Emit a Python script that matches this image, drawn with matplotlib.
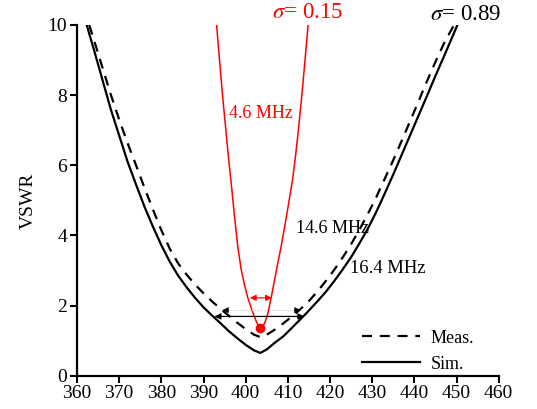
import numpy as np
import matplotlib
matplotlib.use('Agg')
import matplotlib.pyplot as plt

plt.rcParams['font.family'] = ['Liberation Serif', 'DejaVu Serif']
plt.rcParams['mathtext.fontset'] = 'stix'

# Simulated VSWR (solid black)
sim_freq = [362.3, 364, 366, 368, 370, 372, 374, 376, 378, 380, 382, 384, 386, 388,
            390, 392, 394, 396, 398, 400, 402, 403.5,
            405, 407, 409, 411, 413, 415, 417, 419, 421, 423, 425, 427, 429, 431,
            433, 435, 437, 439, 441, 443, 445, 447, 449, 450.2]
sim_vswr = [10.0, 9.3, 8.45, 7.6, 6.85, 6.1, 5.45, 4.82, 4.25, 3.72, 3.25, 2.85, 2.52, 2.22,
            1.95, 1.72, 1.5, 1.27, 1.07, 0.88, 0.72, 0.65,
            0.75, 0.95, 1.13, 1.37, 1.61, 1.86, 2.12, 2.39, 2.7, 3.03, 3.38, 3.78, 4.2, 4.68,
            5.2, 5.74, 6.3, 6.86, 7.42, 7.98, 8.55, 9.1, 9.66, 10.0]

# Measured VSWR (dashed black)
meas_freq = [362.9, 364, 366, 368, 370, 372, 374, 376, 378, 380, 382, 384, 386, 388,
             390, 392, 394, 396, 398, 400, 402, 403.5,
             405, 407, 409, 411, 413, 415, 417, 419, 421, 423, 425, 427, 429, 431,
             433, 435, 437, 439, 441, 443, 445, 447, 449.4]
meas_vswr = [10.0, 9.58, 8.8, 8.02, 7.3, 6.63, 6.0, 5.36, 4.74, 4.15, 3.62, 3.2, 2.88, 2.6,
             2.35, 2.12, 1.91, 1.71, 1.51, 1.33, 1.17, 1.1,
             1.17, 1.32, 1.5, 1.69, 1.9, 2.13, 2.4, 2.7, 3.02, 3.37, 3.75, 4.17, 4.62, 5.1,
             5.62, 6.15, 6.7, 7.26, 7.83, 8.4, 8.95, 9.47, 10.0]

# Narrow-band curve (red)
red_freq = [393.1, 393.8, 394.5, 395.3, 395.9, 396.5, 397.3, 398.1, 398.9, 399.7,
            400.5, 401.4, 402.5, 403.6, 404.5, 405.2, 406.0, 406.8, 407.6, 408.4,
            409.1, 410.1, 411.1, 411.8, 412.5, 413.2, 414.0, 414.8]
red_vswr = [10.0, 9.0, 8.0, 7.0, 6.25, 5.57, 4.6, 3.7, 3.05, 2.6,
            2.22, 1.9, 1.55, 1.3, 1.5, 1.75, 2.2, 2.7, 3.2, 3.68,
            4.15, 4.85, 5.58, 6.25, 7.0, 7.85, 8.9, 10.0]
red_dot = (403.5, 1.35)

# bandwidth markers: (left, right, level)
bw_red = (401.0, 406.2, 2.22)
bw_sim = (392.6, 413.9, 1.69)
bw_meas = (394.5, 413.0, 1.87)

fig = plt.figure(figsize=(5.37, 4.09), dpi=100)
ax = fig.add_axes([0.1434, 0.0814, 0.7853, 0.8575])

ax.plot(meas_freq, meas_vswr, color='black', lw=1.6, ls=(0, (4.5, 3.5)), label='Meas.')
ax.plot(sim_freq, sim_vswr, color='black', lw=1.6, label='Sim.')
ax.plot(red_freq, red_vswr, color='red', lw=1.1)
ax.plot(*red_dot, 'o', color='red', ms=6)

# red arrows pointing outward
mid = (bw_red[0] + bw_red[1]) / 2
for tip in (bw_red[0], bw_red[1]):
    ax.annotate('', xy=(tip, bw_red[2]), xytext=(mid, bw_red[2]),
                arrowprops=dict(arrowstyle='-|>', color='red', lw=0.8, mutation_scale=9,
                                shrinkA=0, shrinkB=0))
# sim bandwidth arrow
ax.annotate('', xy=(bw_sim[0], bw_sim[2]), xytext=(bw_sim[1], bw_sim[2]),
            arrowprops=dict(arrowstyle='<|-|>', color='black', lw=0.9, mutation_scale=9,
                            shrinkA=0, shrinkB=0))
# meas bandwidth dotted line with heads
ax.plot([bw_meas[0], bw_meas[1]], [bw_meas[2], bw_meas[2]], color='0.75', lw=0.8, ls=':')
for tip, back in ((bw_meas[0], bw_meas[0] + 1.5), (bw_meas[1], bw_meas[1] - 1.5)):
    ax.annotate('', xy=(tip, bw_meas[2]), xytext=(back, bw_meas[2]),
                arrowprops=dict(arrowstyle='-|>', color='black', lw=0.5, mutation_scale=9,
                                shrinkA=0, shrinkB=0))

ax.text(406.2, 10.35, r'$\sigma$= 0.15', color='red', fontsize=16.5, va='center')
ax.text(443.8, 10.3, r'$\sigma$= 0.89', color='black', fontsize=16.5, va='center')
ax.text(403.6, 7.49, '4.6 MHz', color='red', fontsize=13, ha='center', va='center')
ax.text(411.9, 4.2, '14.6 MHz', color='black', fontsize=13, va='center')
ax.text(424.7, 3.07, '16.4 MHz', color='black', fontsize=13.4, va='center')

ax.set_xlim(360, 460)
ax.set_ylim(0, 10)
ax.set_xticks(np.arange(360, 461, 10))
ax.set_yticks(np.arange(0, 11, 2))
ax.set_ylabel('VSWR', fontsize=14, labelpad=8)

for s in ('top', 'right'):
    ax.spines[s].set_visible(False)
for s in ('left', 'bottom'):
    ax.spines[s].set_linewidth(1.6)
ax.tick_params(direction='out', length=5, width=1.5, labelsize=14, pad=2)

ax.legend(loc='center left', bbox_to_anchor=(0.676, 0.07), frameon=False,
          fontsize=13, handlelength=3.2, handletextpad=0.6, labelspacing=0.5,
          borderpad=0, borderaxespad=0)

fig.savefig('out.png', dpi=100)
